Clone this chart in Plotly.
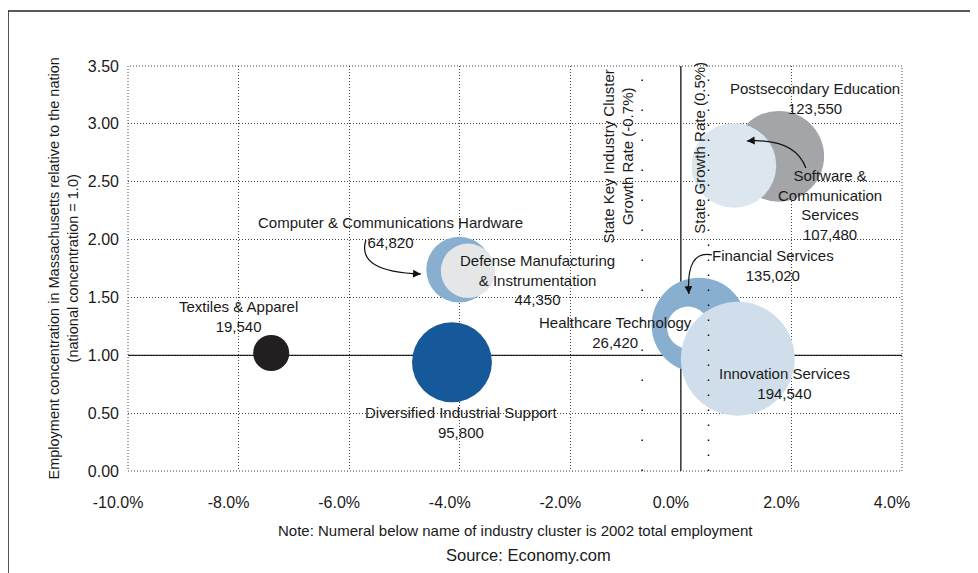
import plotly.graph_objects as go

# ---------------- data ----------------
clusters = [
    "Textiles & Apparel",
    "Diversified Industrial Support",
    "Computer & Communications Hardware",
    "Defense Manufacturing & Instrumentation",
    "Postsecondary Education",
    "Software & Communication Services",
    "Financial Services",
    "Healthcare Technology",
    "Innovation Services",
]
growth_pct = [-7.41, -4.14, -4.01, -3.85, 1.77, 0.96, 0.33, 0.13, 1.03]
concentration = [1.02, 0.94, 1.74, 1.73, 2.72, 2.64, 1.26, 1.24, 0.97]
employment = [19540, 95800, 64820, 44350, 123550, 107480, 135020, 26420, 194540]

x_ticks = [-10, -8, -6, -4, -2, 0, 2, 4]
y_ticks = [0, 0.5, 1.0, 1.5, 2.0, 2.5, 3.0, 3.5]

NATIONAL_CONCENTRATION = 1.0
STATE_GROWTH = 0.5
CLUSTER_GROWTH = -0.7

# ---------------- styles ----------------
colors = ["#231f20", "#16599a", "#88aed0", "#e4e6e7", "#a3a5a8",
          "#dce6ef", "#88aed0", "#ffffff", "#cfdeea"]

label_text = {
    "Textiles & Apparel": "Textiles & Apparel",
    "Diversified Industrial Support": "Diversified Industrial Support",
    "Computer & Communications Hardware": "Computer & Communications Hardware",
    "Defense Manufacturing & Instrumentation": "Defense Manufacturing<br>& Instrumentation",
    "Postsecondary Education": "Postsecondary Education",
    "Software & Communication Services": "Software &<br>Communication<br>Services",
    "Financial Services": "Financial Services",
    "Healthcare Technology": "Healthcare Technology",
    "Innovation Services": "Innovation Services",
}
label_pos = {
    "Textiles & Apparel": (-8.01, 1.331),
    "Diversified Industrial Support": (-3.96, 0.423),
    "Computer & Communications Hardware": (-5.26, 2.057),
    "Defense Manufacturing & Instrumentation": (-2.60, 1.65),
    "Postsecondary Education": (2.42, 3.22),
    "Software & Communication Services": (2.69, 2.30),
    "Financial Services": (1.66, 1.78),
    "Healthcare Technology": (-1.19, 1.193),
    "Innovation Services": (1.88, 0.76),
}

FONT = "Liberation Sans, Arial, sans-serif"
TXT = "#1a1a1a"
GRID = "#444"
GRID_DASH = "1px,2px"

fig = go.Figure()
fig.add_trace(go.Scatter(
    x=growth_pct, y=concentration, mode="markers",
    marker=dict(size=employment, sizemode="area", sizeref=30,
                color=colors, opacity=1, line=dict(width=0)),
    hoverinfo="text", text=clusters, showlegend=False, cliponaxis=False,
))

annotations = []
for name, emp in zip(clusters, employment):
    lx, ly = label_pos[name]
    annotations.append(dict(
        x=lx, y=ly, xref="x", yref="y", showarrow=False,
        text=f"{label_text[name]}<br>{emp:,}",
        font=dict(family=FONT, size=15, color=TXT),
        align="center", xanchor="center", yanchor="middle"))

# curved pointer arrows (path in data coords + arrowhead annotation)
arrows = [
    ((-5.697, 1.996), (-5.878, 1.720), (-4.702, 1.703), (-10, -0.3)),
    ((0.561, 1.867), (0.090, 1.910), (0.145, 1.530), (-0.7, -10)),
    ((2.261, 2.619), (2.062, 2.878), (1.194, 2.852), (10, -0.6)),
]
shapes = [
    # dotted plot-area border (grid lines at the range ends)
    dict(type="rect", xref="paper", yref="paper", x0=0, x1=1, y0=0, y1=1,
         line=dict(color=GRID, width=1, dash=GRID_DASH), layer="between"),
]
for (s, c, e, off) in arrows:
    shapes.append(dict(type="path", xref="x", yref="y",
                       path=f"M {s[0]},{s[1]} Q {c[0]},{c[1]} {e[0]},{e[1]}",
                       line=dict(color="#111", width=1.2), layer="above"))
    annotations.append(dict(x=e[0], y=e[1], xref="x", yref="y", text="",
                            showarrow=True, arrowhead=2, arrowsize=1.3,
                            arrowwidth=1.2, arrowcolor="#111",
                            ax=off[0], ay=off[1]))

# reference lines
shapes += [
    dict(type="line", xref="paper", x0=0, x1=1, yref="y",
         y0=NATIONAL_CONCENTRATION, y1=NATIONAL_CONCENTRATION,
         line=dict(color="#111", width=1.3), layer="between"),
    dict(type="line", xref="x", x0=0, x1=0, yref="paper", y0=0, y1=1,
         line=dict(color="#111", width=1.3), layer="between"),
    dict(type="line", xref="x", x0=STATE_GROWTH, x1=STATE_GROWTH,
         yref="paper", y0=0, y1=1,
         line=dict(color="#111", width=1.5, dash="1.5px,13.5px"), layer="above"),
    dict(type="line", xref="x", x0=CLUSTER_GROWTH, x1=CLUSTER_GROWTH,
         yref="paper", y0=0, y1=1,
         line=dict(color="#111", width=1.5, dash="1.5px,28.5px"), layer="above"),
    # outer frame
    dict(type="line", xref="paper", yref="paper", x0=-0.155, x1=1.1, y0=1.1358, y1=1.1358,
         line=dict(color="#222", width=1.5)),
    dict(type="line", xref="paper", yref="paper", x0=-0.155, x1=-0.155, y0=-0.26, y1=1.1358,
         line=dict(color="#222", width=1.5)),
]

annotations += [
    dict(x=CLUSTER_GROWTH, y=2.72, xref="x", yref="y", xshift=-24,
         text="State Key Industry Cluster<br>Growth Rate (-0.7%)", textangle=-90,
         showarrow=False, font=dict(family=FONT, size=15, color=TXT),
         xanchor="center", yanchor="middle"),
    dict(x=STATE_GROWTH, y=2.79, xref="x", yref="y", xshift=-9,
         text="State Growth Rate (0.5%)", textangle=-90,
         showarrow=False, font=dict(family=FONT, size=15, color=TXT),
         xanchor="center", yanchor="middle"),
    dict(x=-0.0827, y=0.5, xref="paper", yref="paper",
         text="Employment concentration in Massachusetts relative to the nation<br>(national concentration = 1.0)",
         textangle=-90, showarrow=False,
         font=dict(family=FONT, size=14.5, color=TXT),
         xanchor="center", yanchor="middle"),
    dict(x=0.501, y=-0.1457, xref="paper", yref="paper",
         text="Note: Numeral below name of industry cluster is 2002 total employment",
         showarrow=False, font=dict(family=FONT, size=15, color=TXT),
         xanchor="center", yanchor="middle"),
    dict(x=0.517, y=-0.2074, xref="paper", yref="paper",
         text="Source: Economy.com",
         showarrow=False, font=dict(family=FONT, size=16.5, color=TXT),
         xanchor="center", yanchor="middle"),
]

fig.update_layout(
    width=970, height=565,
    margin=dict(l=120, r=76, t=58, b=102),
    paper_bgcolor="white", plot_bgcolor="white",
    font=dict(family=FONT, color=TXT),
    shapes=shapes, annotations=annotations,
    xaxis=dict(range=[-10, 4], tickvals=x_ticks,
               ticktext=[f"{v:.1f}%" for v in x_ticks],
               showgrid=True, gridcolor=GRID, griddash=GRID_DASH, gridwidth=1,
               zeroline=False, showline=False, ticks="",
               ticklabelshift=-10, ticklabelstandoff=20,
               tickfont=dict(family=FONT, size=16, color=TXT)),
    yaxis=dict(range=[0, 3.5], tickvals=y_ticks,
               ticktext=[f"{v:.2f}" for v in y_ticks],
               showgrid=True, gridcolor=GRID, griddash=GRID_DASH, gridwidth=1,
               zeroline=False, showline=False, ticks="",
               ticklabelstandoff=8,
               tickfont=dict(family=FONT, size=16, color=TXT)),
)

fig.write_html("out.html")
